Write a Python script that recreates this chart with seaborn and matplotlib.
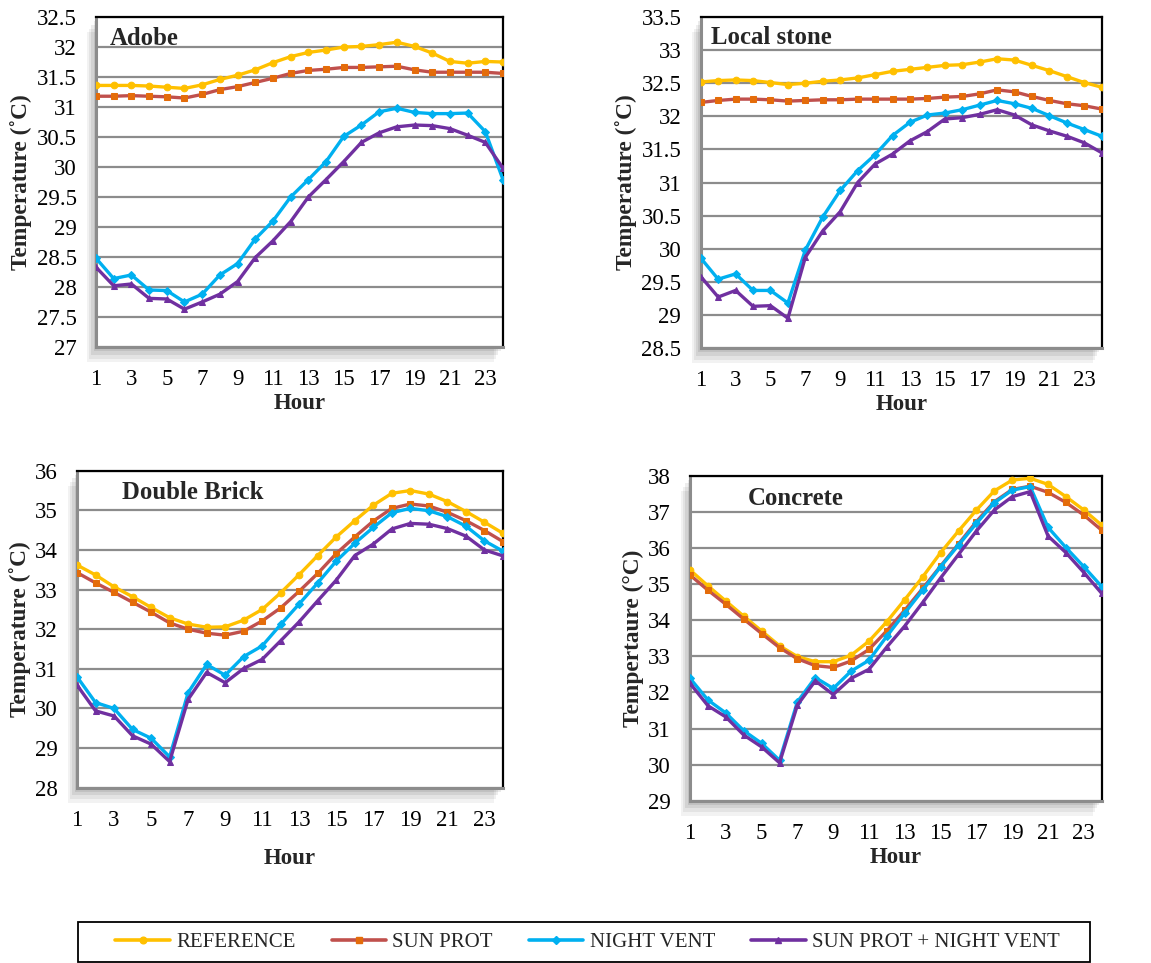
import numpy as np
import pandas as pd
import matplotlib
matplotlib.use("Agg")
import matplotlib.pyplot as plt
import seaborn as sns
from matplotlib.ticker import FuncFormatter, MultipleLocator
from matplotlib.patches import Rectangle
from matplotlib.lines import Line2D

hours = list(range(1, 25))
series_names = ["REFERENCE", "SUN PROT", "NIGHT VENT", "SUN PROT + NIGHT VENT"]

adobe_ref = [31.36, 31.36, 31.36, 31.35, 31.33, 31.31, 31.37, 31.46, 31.53, 31.62, 31.74, 31.84,
             31.91, 31.95, 32.00, 32.01, 32.04, 32.08, 32.01, 31.90, 31.76, 31.73, 31.76, 31.75]
adobe_sun = [31.18, 31.18, 31.19, 31.18, 31.17, 31.15, 31.21, 31.29, 31.34, 31.41, 31.48, 31.56,
             31.61, 31.63, 31.66, 31.66, 31.67, 31.68, 31.62, 31.58, 31.58, 31.58, 31.58, 31.56]
adobe_vent = [28.48, 28.14, 28.20, 27.95, 27.94, 27.75, 27.88, 28.20, 28.39, 28.80, 29.10, 29.50,
              29.79, 30.09, 30.51, 30.70, 30.92, 30.98, 30.91, 30.89, 30.89, 30.90, 30.59, 29.79]
adobe_both = [28.33, 28.02, 28.05, 27.81, 27.80, 27.63, 27.75, 27.88, 28.09, 28.49, 28.77, 29.09,
              29.50, 29.79, 30.09, 30.41, 30.57, 30.67, 30.70, 30.69, 30.64, 30.53, 30.41, 29.98]

stone_ref = [32.52, 32.54, 32.55, 32.54, 32.51, 32.48, 32.50, 32.53, 32.55, 32.58, 32.63, 32.68,
             32.71, 32.74, 32.77, 32.78, 32.82, 32.87, 32.85, 32.77, 32.69, 32.60, 32.51, 32.44]
stone_sun = [32.21, 32.24, 32.26, 32.26, 32.25, 32.23, 32.24, 32.25, 32.25, 32.26, 32.26, 32.26,
             32.26, 32.27, 32.29, 32.30, 32.34, 32.40, 32.37, 32.30, 32.24, 32.19, 32.16, 32.11]
stone_vent = [29.86, 29.54, 29.62, 29.37, 29.37, 29.18, 29.98, 30.48, 30.88, 31.18, 31.42, 31.71,
              31.91, 32.02, 32.05, 32.10, 32.17, 32.24, 32.19, 32.12, 32.01, 31.90, 31.80, 31.70]
stone_both = [29.58, 29.27, 29.37, 29.13, 29.14, 28.95, 29.87, 30.27, 30.56, 31.00, 31.28, 31.43,
              31.63, 31.77, 31.96, 31.98, 32.03, 32.10, 32.02, 31.87, 31.78, 31.70, 31.60, 31.45]

brick_ref = [33.62, 33.37, 33.07, 32.82, 32.55, 32.29, 32.13, 32.05, 32.06, 32.23, 32.50, 32.92,
             33.38, 33.86, 34.33, 34.74, 35.13, 35.43, 35.50, 35.41, 35.22, 34.97, 34.70, 34.42]
brick_sun = [33.43, 33.17, 32.93, 32.68, 32.43, 32.16, 32.00, 31.90, 31.85, 31.95, 32.21, 32.54,
             32.96, 33.41, 33.91, 34.33, 34.73, 35.05, 35.16, 35.11, 34.95, 34.74, 34.49, 34.21]
brick_vent = [30.80, 30.15, 30.00, 29.47, 29.25, 28.78, 30.40, 31.11, 30.84, 31.31, 31.58, 32.12,
              32.64, 33.17, 33.72, 34.17, 34.57, 34.94, 35.05, 34.99, 34.84, 34.60, 34.23, 33.97]
brick_both = [30.59, 29.94, 29.81, 29.31, 29.10, 28.66, 30.23, 30.91, 30.65, 31.01, 31.24, 31.71,
              32.19, 32.72, 33.24, 33.86, 34.15, 34.53, 34.67, 34.65, 34.54, 34.35, 34.00, 33.85]

concrete_ref = [35.39, 34.95, 34.53, 34.11, 33.70, 33.29, 32.99, 32.85, 32.85, 33.03, 33.42, 33.96,
                34.57, 35.20, 35.87, 36.47, 37.05, 37.58, 37.88, 37.93, 37.76, 37.42, 37.05, 36.63]
concrete_sun = [35.25, 34.83, 34.44, 34.03, 33.63, 33.24, 32.93, 32.74, 32.69, 32.87, 33.19, 33.71,
                34.28, 34.88, 35.50, 36.11, 36.73, 37.28, 37.62, 37.71, 37.54, 37.26, 36.91, 36.49]
concrete_vent = [32.39, 31.79, 31.43, 30.94, 30.59, 30.12, 31.74, 32.41, 32.11, 32.59, 32.89, 33.56,
                 34.20, 34.83, 35.48, 36.08, 36.68, 37.25, 37.60, 37.70, 36.57, 36.01, 35.48, 34.93]
concrete_both = [32.25, 31.63, 31.32, 30.82, 30.49, 30.05, 31.65, 32.32, 31.94, 32.39, 32.64, 33.26,
                 33.84, 34.49, 35.17, 35.82, 36.47, 37.05, 37.42, 37.56, 36.33, 35.87, 35.32, 34.74]

panel_titles = ["Adobe", "Local stone", "Double Brick", "Concrete"]
y_labels = ["Temperature (˚C)", "Temperature (˚C)", "Temperature (˚C)", "Tempertaure (°C)"]
y_limits = [(27, 32.5), (28.5, 33.5), (28, 36), (29, 38)]
y_steps = [0.5, 0.5, 1, 1]

panel_data = [
    [adobe_ref, adobe_sun, adobe_vent, adobe_both],
    [stone_ref, stone_sun, stone_vent, stone_both],
    [brick_ref, brick_sun, brick_vent, brick_both],
    [concrete_ref, concrete_sun, concrete_vent, concrete_both],
]

# line colour, marker face colour, marker shape, marker size
styles = {
    "REFERENCE": dict(color="#FFC000", mfc="#FFC000", marker="o", ms=4.8),
    "SUN PROT": dict(color="#C0504D", mfc="#E46C0A", marker="s", ms=5.0),
    "NIGHT VENT": dict(color="#00B0F0", mfc="#00B0F0", marker="D", ms=4.0),
    "SUN PROT + NIGHT VENT": dict(color="#7030A0", mfc="#7030A0", marker="^", ms=5.0),
}

sns.set_theme(style="white")
plt.rcParams["font.family"] = ["Liberation Serif", "DejaVu Serif"]

W, H = 1151, 963
fig = plt.figure(figsize=(W / 100, H / 100), dpi=100)

# axes boxes in figure fraction: left, bottom, width, height
boxes = [
    (0.0834, 0.6397, 0.437 - 0.0834, 0.9823 - 0.6397),
    (0.6088, 0.6386, 0.9572 - 0.6088, 0.9823 - 0.6386),
    (0.0669, 0.1820, 0.437 - 0.0669, 0.5112 - 0.1820),
    (0.5995, 0.1685, 0.9572 - 0.5995, 0.5060 - 0.1685),
]
title_pos = [(0.034, 0.936), (0.026, 0.937), (0.106, 0.932), (0.141, 0.931)]
xlabel_pad = [2, 2, 12, 2]
ylabel_pad = [3.5, 3, 3, 3]

grid_grey = "#8C8C8C"
axis_grey = "#8C8C8C"

for i, box in enumerate(boxes):
    ax = fig.add_axes(box)
    # soft drop shadow behind the plot area
    for k, a in enumerate([0.05, 0.06, 0.07, 0.08]):
        off = (4 - k) * 0.0025
        sh = Rectangle((box[0] - off * 0.8, box[1] - off * 1.6), box[2], box[3],
                       transform=fig.transFigure, facecolor="black", alpha=a,
                       edgecolor="none", zorder=-5)
        fig.patches.append(sh)
    ax.set_facecolor("white")
    ax.patch.set_zorder(-1)

    df = pd.DataFrame({"Hour": hours})
    for name, vals in zip(series_names, panel_data[i]):
        df[name] = vals
    long = df.melt(id_vars="Hour", var_name="Series", value_name="Temp")

    for name in series_names:
        st = styles[name]
        sub = long[long["Series"] == name]
        sns.lineplot(data=sub, x="Hour", y="Temp", ax=ax, color=st["color"],
                     marker=st["marker"], markersize=st["ms"],
                     markerfacecolor=st["mfc"], markeredgecolor=st["mfc"],
                     linewidth=2.4, label=name, legend=False, zorder=3)

    lo, hi = y_limits[i]
    ax.set_ylim(lo, hi)
    ax.set_xlim(1, 24)
    ax.yaxis.set_major_locator(MultipleLocator(y_steps[i]))
    ax.yaxis.set_major_formatter(FuncFormatter(lambda v, p: f"{v:g}"))
    ax.set_xticks(hours)
    ax.set_xticklabels([str(h) if h % 2 == 1 else "" for h in hours])
    ax.grid(axis="y", color=grid_grey, linewidth=1.6, zorder=0)
    ax.grid(axis="x", visible=False)
    ax.set_axisbelow(True)

    for s in ["top", "right"]:
        ax.spines[s].set_color("black")
        ax.spines[s].set_linewidth(1.6)
    for s in ["left", "bottom"]:
        ax.spines[s].set_color(axis_grey)
        ax.spines[s].set_linewidth(2.2)

    ax.tick_params(axis="both", which="major", direction="out", length=5, width=1.6,
                   color=axis_grey, labelsize=16.5, labelcolor="black")
    ax.tick_params(axis="y", pad=9)
    ax.tick_params(axis="x", pad=11)

    ax.set_xlabel("Hour", fontsize=16.5, fontweight="bold", labelpad=xlabel_pad[i])
    ax.set_ylabel(y_labels[i], fontsize=16.8, fontweight="bold", labelpad=ylabel_pad[i])
    ax.text(title_pos[i][0], title_pos[i][1], panel_titles[i], transform=ax.transAxes,
            ha="left", va="center", fontsize=17.8, fontweight="bold", zorder=5)

# legend entries, with a separate frame box around them
handles = [Line2D([0], [0], color=styles[n]["color"], marker=styles[n]["marker"],
                  markersize=styles[n]["ms"], markerfacecolor=styles[n]["mfc"],
                  markeredgecolor=styles[n]["mfc"], linewidth=2.6) for n in series_names]
fig.legend(handles, series_names, loc="center", bbox_to_anchor=(587.5 / W, 1 - 942 / H),
           ncol=4, frameon=False, fontsize=15, handlelength=2.6,
           columnspacing=1.75, handletextpad=0.3, borderpad=0.3)
frame = Rectangle((78 / W, 1 - 962 / H), (1090 - 78) / W, 40 / H,
                  transform=fig.transFigure, facecolor="white", edgecolor="black",
                  linewidth=1.3, zorder=-1)
fig.patches.append(frame)

fig.savefig("out.png", dpi=100)
